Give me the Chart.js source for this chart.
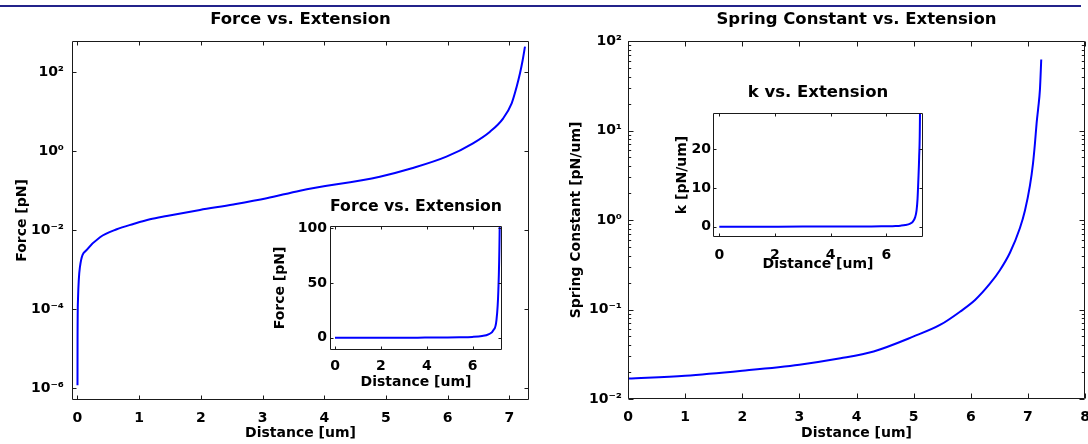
<!DOCTYPE html>
<html>
<head>
<meta charset="utf-8">
<script src="https://cdn.jsdelivr.net/npm/chart.js@4.4.1/dist/chart.umd.min.js"></script>
<style>
  html, body { margin: 0; padding: 0; background: #fff; }
  #wrap { position: relative; width: 1088px; height: 444px; overflow: hidden; }
  #wrap canvas { position: absolute; left: 0; top: 0; }
  #topline { position: absolute; left: 0; top: 5px; width: 1081px; height: 2px; background: #23238a; }
</style>
</head>
<body>
<div id="wrap">
  <div id="topline"></div>
  <canvas id="forceMain" width="1088" height="444"></canvas>
  <canvas id="kMain" width="1088" height="444"></canvas>
  <canvas id="forceInset" width="1088" height="444"></canvas>
  <canvas id="kInset" width="1088" height="444"></canvas>
</div>
<script>
// force vs distance
const dist = [0, 0.001, 0.008, 0.04, 0.15, 0.365, 0.636, 0.906, 1.175, 1.446, 1.985, 2.525, 3.067, 3.606, 4.9, 5.42, 5.98, 6.41, 6.686, 6.9, 7.037, 7.118, 7.172, 7.216, 7.253];
const force = [1.17e-6, 1.63e-5, 1.7e-4, 1.17e-3, 3.14e-3, 6.6e-3, 0.0105, 0.0143, 0.0188, 0.0228, 0.0324, 0.0446, 0.064, 0.0998, 0.226, 0.369, 0.726, 1.585, 3.12, 6.82, 16.4, 43.2, 94.4, 205, 446];

// spring constant vs distance
const distK = [0, 1, 2, 3, 3.72, 4.3, 5.0, 5.47, 5.82, 6.08, 6.335, 6.51, 6.686, 6.861, 6.949, 7.036, 7.089, 7.124, 7.153, 7.181, 7.211, 7.234];
const springK = [0.0169, 0.0182, 0.0207, 0.0242, 0.0285, 0.034, 0.050, 0.0676, 0.0953, 0.1285, 0.194, 0.275, 0.431, 0.815, 1.28, 2.42, 4.24, 7.2, 12.1, 17.8, 28.6, 62];

// tick labels
const xTicksMain = [0, 1, 2, 3, 4, 5, 6, 7];
const xTicksK = [0, 1, 2, 3, 4, 5, 6, 7, 8];
const xTicksInset = [0, 2, 4, 6];
const yTicksForceLog = [1e-6, 1e-4, 1e-2, 1, 1e2];
const yTicksKLog = [1e-2, 1e-1, 1, 10, 100];
const yTicksForceLin = [0, 50, 100];
const yTicksKLin = [0, 10, 20];

Chart.defaults.font.family = "'DejaVu Sans', sans-serif";
Chart.defaults.font.weight = 'bold';
Chart.defaults.color = '#000';

const W = 1088, H = 444;
const sup = { '-': '\u207B', '0': '\u2070', '1': '\u00B9', '2': '\u00B2', '3': '\u00B3', '4': '\u2074', '5': '\u2075', '6': '\u2076', '7': '\u2077', '8': '\u2078', '9': '\u2079' };
function pow10Label(v) {
  const e = Math.round(Math.log10(v));
  return '10' + String(e).split('').map(c => sup[c]).join('');
}

// white axes box with inward ticks on all four sides, like matlab
const matlabAxes = {
  id: 'matlabAxes',
  beforeDraw(chart) {
    const { ctx, chartArea: a } = chart;
    ctx.save();
    ctx.fillStyle = '#fff';
    ctx.fillRect(a.left, a.top, a.right - a.left, a.bottom - a.top);
    ctx.restore();
  },
  afterDatasetsDraw(chart, args, opts) {
    const { ctx, chartArea: a, scales: { x, y } } = chart;
    const L = a.left + 0.5, R = a.right - 0.5, T = a.top + 0.5, B = a.bottom - 0.5;
    ctx.save();
    ctx.strokeStyle = '#1a1a1a';
    ctx.lineWidth = 1;
    ctx.beginPath();
    x.ticks.forEach(t => {
      const p = Math.round(x.getPixelForValue(t.value)) + 0.5;
      ctx.moveTo(p, B); ctx.lineTo(p, B - opts.len);
      ctx.moveTo(p, T); ctx.lineTo(p, T + opts.len);
    });
    y.ticks.forEach(t => {
      const p = Math.round(y.getPixelForValue(t.value)) + 0.5;
      ctx.moveTo(L, p); ctx.lineTo(L + opts.len, p);
      ctx.moveTo(R, p); ctx.lineTo(R - opts.len, p);
    });
    if (opts.minor) {
      for (let d = y.min; d < y.max; d *= 10) {
        for (let m = 2; m < 10; m++) {
          const p = Math.round(y.getPixelForValue(d * m)) + 0.5;
          ctx.moveTo(L, p); ctx.lineTo(L + opts.minor, p);
          ctx.moveTo(R, p); ctx.lineTo(R - opts.minor, p);
        }
      }
    }
    ctx.rect(L, T, R - L, B - T);
    ctx.stroke();
    ctx.restore();
  }
};

function panel(id, p) {
  const tlh = p.titleSize * 1.2, alh = 14 * 1.2;
  const a = p.area;
  return new Chart(document.getElementById(id), {
    type: 'line',
    data: {
      datasets: [{
        data: p.xs.map((v, i) => ({ x: v, y: p.ys[i] })),
        borderColor: '#0000ff',
        borderWidth: 2,
        pointRadius: 0,
        fill: false,
        cubicInterpolationMode: 'monotone'
      }]
    },
    options: {
      responsive: false,
      animation: false,
      devicePixelRatio: 1,
      events: [],
      layout: { padding: { left: 0, top: 0, right: W - a.r, bottom: 0 } },
      plugins: {
        legend: { display: false },
        tooltip: { enabled: false },
        title: {
          display: true,
          text: p.title,
          fullSize: false,
          color: '#000',
          font: { size: p.titleSize, weight: 'bold', lineHeight: 1.2 },
          padding: { top: p.titleY - tlh / 2, bottom: a.t - (p.titleY - tlh / 2) - tlh }
        },
        matlabAxes: { len: p.tick, minor: p.minor || 0 }
      },
      scales: {
        x: {
          type: 'linear',
          min: p.xMin, max: p.xMax,
          grid: { display: false, drawTicks: false },
          border: { display: false },
          ticks: { autoSkip: false, maxRotation: 0, padding: p.xPad, font: { size: 14 } },
          afterBuildTicks: s => { s.ticks = p.xTicks.map(v => ({ value: v })); },
          afterFit: s => { s.height = H - a.b; s.paddingLeft = 0; s.paddingRight = 0; },
          title: { display: true, text: 'Distance [um]', font: { size: 14, lineHeight: 1.2 },
                   padding: { top: 0, bottom: H - p.xTitleY - alh / 2 } }
        },
        y: {
          type: p.yType,
          min: p.yMin, max: p.yMax,
          grid: { display: false, drawTicks: false },
          border: { display: false },
          ticks: {
            autoSkip: false, padding: p.yPad, font: { size: 14 },
            callback: p.yType === 'logarithmic' ? v => pow10Label(v) : v => String(v)
          },
          afterBuildTicks: s => { s.ticks = p.yTicks.map(v => ({ value: v })); },
          afterFit: s => { s.width = a.l; s.paddingTop = 0; s.paddingBottom = 0; },
          title: { display: true, text: p.yTitle, font: { size: 14, lineHeight: 1.2 },
                   padding: { top: p.yTitleX - alh / 2, bottom: 0 } }
        }
      }
    },
    plugins: [matlabAxes]
  });
}

panel('forceMain', {
  area: { l: 72, t: 41, r: 529, b: 400 },
  title: 'Force vs. Extension', titleSize: 16.5, titleY: 20,
  xs: dist, ys: force,
  xMin: -0.089, xMax: 7.318, xTicks: xTicksMain, xPad: 10, xTitleY: 433,
  yType: 'logarithmic', yMin: 4.93e-7, yMax: 621, yTicks: yTicksForceLog, yPad: 8,
  yTitle: 'Force [pN]', yTitleX: 22, tick: 4
});

panel('kMain', {
  area: { l: 628, t: 41, r: 1085, b: 399 },
  title: 'Spring Constant vs. Extension', titleSize: 16.5, titleY: 20,
  xs: distK, ys: springK,
  xMin: 0, xMax: 8, xTicks: xTicksK, xPad: 10, xTitleY: 433,
  yType: 'logarithmic', yMin: 0.01, yMax: 100, yTicks: yTicksKLog, yPad: 6,
  yTitle: 'Spring Constant [pN/um]', yTitleX: 576, tick: 5, minor: 2.7
});

panel('forceInset', {
  area: { l: 330, t: 226, r: 502, b: 350 },
  title: 'Force vs. Extension', titleSize: 16.5, titleY: 207,
  xs: dist, ys: force,
  xMin: -0.218, xMax: 7.277, xTicks: xTicksInset, xPad: 8, xTitleY: 382,
  yType: 'linear', yMin: -11.2, yMax: 102.1, yTicks: yTicksForceLin, yPad: 3,
  yTitle: 'Force [pN]', yTitleX: 280, tick: 3
});

panel('kInset', {
  area: { l: 713, t: 113, r: 923, b: 237 },
  title: 'k vs. Extension', titleSize: 16.5, titleY: 93,
  xs: distK, ys: springK,
  xMin: -0.226, xMax: 7.32, xTicks: xTicksInset, xPad: 9.5, xTitleY: 264,
  yType: 'linear', yMin: -2.66, yMax: 29.4, yTicks: yTicksKLin, yPad: 2,
  yTitle: 'k [pN/um]', yTitleX: 682, tick: 3
});
</script>
</body>
</html>
